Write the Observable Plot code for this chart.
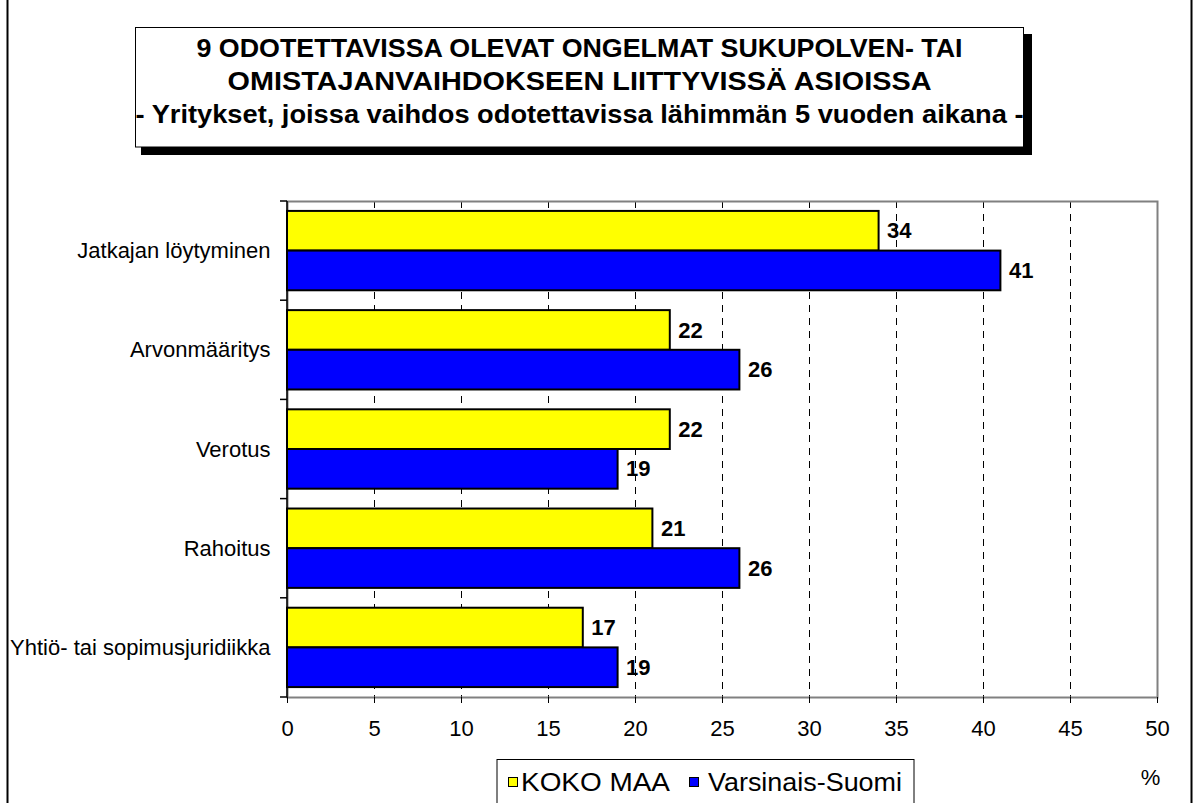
<!DOCTYPE html>
<html><head><meta charset="utf-8">
<script src="https://cdn.jsdelivr.net/npm/d3@7"></script>
<script src="https://cdn.jsdelivr.net/npm/@observablehq/plot@0.6"></script>
<style>
html,body{margin:0;padding:0;background:#fff;}
#wrap{position:relative;width:1196px;height:803px;overflow:hidden;font-family:'Liberation Sans',Arial,sans-serif;}
#wrap svg{position:absolute;left:0;top:0;}
</style></head><body><div id="wrap"></div>
<script>
// ---- data ----
const categories = ["Jatkajan löytyminen", "Arvonmääritys", "Verotus", "Rahoitus", "Yhtiö- tai sopimusjuridiikka"];
const kokoMaa = [34, 22, 22, 21, 17];
const varsinaisSuomi = [41, 26, 19, 26, 19];
const seriesNames = ["KOKO MAA", "Varsinais-Suomi"];
const seriesColors = ["#ffff00", "#0000ff"];
const xTicks = [0, 5, 10, 15, 20, 25, 30, 35, 40, 45, 50];
const titleLines = [
  "9 ODOTETTAVISSA OLEVAT ONGELMAT SUKUPOLVEN- TAI",
  "OMISTAJANVAIHDOKSEEN LIITTYVISSÄ ASIOISSA",
  "- Yritykset, joissa vaihdos odotettavissa lähimmän 5 vuoden aikana -"
];
const unitLabel = "%";

const rows = categories.map((c, i) => ({category: c, koko: kokoMaa[i], vs: varsinaisSuomi[i]}));

// ---- layout ----
const W = 1196, H = 803, mL = 287, mR = 39, mT = 201, mB = 106;
const step = (H - mT - mB) / categories.length;
const half = step * 0.8 / 2;
const FONT = "'Liberation Sans', Arial, sans-serif";

function boundaryTicks(index, scales, values, dims) {
  const y = scales.y, x = scales.x;
  const gap = (y.step() - y.bandwidth()) / 2;
  const dom = y.domain();
  const pos = dom.map(c => y(c) - gap);
  pos.push(y(dom[dom.length - 1]) + y.bandwidth() + gap);
  const x0 = x(0);
  const g = d3.create("svg:g").attr("stroke", "black").attr("stroke-width", 1.5);
  g.selectAll("line.t").data(pos).join("line").attr("class", "t")
    .attr("x1", x0 - 7).attr("x2", x0).attr("y1", d => d).attr("y2", d => d);
  g.append("line").attr("x1", x0).attr("x2", x0).attr("y1", pos[0]).attr("y2", pos[pos.length - 1]);
  return g.node();
}

const chart = Plot.plot({
  width: W, height: H,
  marginLeft: mL, marginRight: mR, marginTop: mT, marginBottom: mB,
  style: {fontFamily: FONT, color: "black", background: "transparent", overflow: "visible"},
  x: {domain: [0, 50]},
  y: {domain: categories, paddingInner: 0.2, paddingOuter: 0.1, round: false},
  marks: [
    Plot.gridX(xTicks.slice(1, -1), {stroke: "black", strokeOpacity: 1, strokeWidth: 1, strokeDasharray: "7,6"}),
    Plot.frame({stroke: "#808080", strokeWidth: 2}),
    Plot.barX(rows, {y: "category", x: "koko", fill: seriesColors[0], stroke: "black", strokeWidth: 2, insetBottom: half}),
    Plot.barX(rows, {y: "category", x: "vs", fill: seriesColors[1], stroke: "black", strokeWidth: 2, insetTop: half}),
    Plot.text(rows, {y: "category", x: "koko", text: d => String(d.koko), dx: 8, dy: -half / 2, textAnchor: "start", fontWeight: "bold", fontSize: 22, fill: "black"}),
    Plot.text(rows, {y: "category", x: "vs", text: d => String(d.vs), dx: 8, dy: half / 2, textAnchor: "start", fontWeight: "bold", fontSize: 22, fill: "black"}),
    Plot.axisX({ticks: xTicks, tickSize: 6, tickPadding: 17, fontSize: 22, label: null, stroke: "black"}),
    Plot.axisY({tickSize: 0, tickPadding: 17, fontSize: 22, label: null}),
    boundaryTicks
  ]
});
const wrap = document.getElementById("wrap");
wrap.appendChild(chart);

// ---- overlay: border, title box, legend, unit ----
const ov = d3.select(wrap).append("svg").attr("width", W).attr("height", H)
  .attr("font-family", FONT);

ov.append("rect").attr("x", 7.5).attr("y", -20).attr("width", 1184).attr("height", H + 60)
  .attr("fill", "none").attr("stroke", "black").attr("stroke-width", 2);

// title box with shadow
ov.append("rect").attr("x", 141).attr("y", 34).attr("width", 891).attr("height", 121).attr("fill", "black");
ov.append("rect").attr("x", 135.5).attr("y", 27.5).attr("width", 888).attr("height", 119.5)
  .attr("fill", "white").attr("stroke", "black").attr("stroke-width", 1);
const titleBase = [56.5, 89.5, 122.5];
const titleLen = [766, 704, 888];
titleLines.forEach((t, i) => {
  ov.append("text").attr("x", 579.5).attr("y", titleBase[i]).attr("text-anchor", "middle")
    .attr("font-size", 25).attr("font-weight", "bold")
    .attr("textLength", titleLen[i]).attr("lengthAdjust", "spacingAndGlyphs").text(t);
});

// legend
const lg = ov.append("g");
lg.append("rect").attr("x", 497).attr("y", 759.5).attr("width", 417).attr("height", 70)
  .attr("fill", "white").attr("stroke", "black").attr("stroke-width", 1);
const legX = [508.5, 689.5];
const legTextX = [521, 708];
const legLen = [149, 194];
seriesNames.forEach((s, i) => {
  lg.append("rect").attr("x", legX[i]).attr("y", 777.5).attr("width", 9).attr("height", 9)
    .attr("fill", seriesColors[i]).attr("stroke", "black").attr("stroke-width", 1);
  lg.append("text").attr("x", legTextX[i]).attr("y", 791).attr("font-size", 25)
    .attr("textLength", legLen[i]).attr("lengthAdjust", "spacingAndGlyphs").text(s);
});

ov.append("text").attr("x", 1150.5).attr("y", 785).attr("text-anchor", "middle")
  .attr("font-size", 22).text(unitLabel);
</script>
</body></html>
